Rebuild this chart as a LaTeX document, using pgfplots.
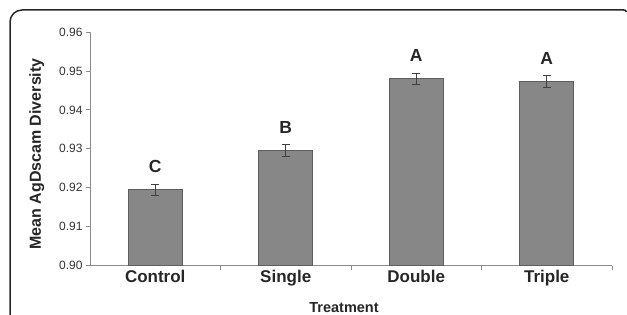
\documentclass[border=0pt]{standalone}
\usepackage{fontspec}
\setmainfont{Liberation Sans}
\usepackage{pgfplots}
\usepackage{pgfplotstable}
\pgfplotsset{compat=1.18}
\definecolor{barfill}{HTML}{878787}
\definecolor{baredge}{HTML}{5E5E5E}
\definecolor{axisgray}{HTML}{8C8C8C}
\pgfplotstableread{
x y err lab
0 0.9195 0.0014 C
1 0.9297 0.0015 B
2 0.9480 0.0015 A
3 0.9473 0.0016 A
}\datatable
\begin{document}
\begin{tikzpicture}[x=1pt,y=1pt]
\useasboundingbox (0,0) rectangle (627,315);
\draw[line width=1.5pt, black!85, rounded corners=12pt] (10,-5) -- (10,305) -- (624,305);
\draw[line width=1.5pt, black!85] (623.5,305) .. controls (625,305) and (626,304.5) .. (626.5,303);
\begin{axis}[
  at={(90pt,49.3pt)}, anchor=south west,
  scale only axis, width=522pt, height=233.7pt,
  xmin=-0.5, xmax=3.5, ymin=0.90, ymax=0.96,
  axis lines*=left,
  axis line style={draw=axisgray, line width=0.8pt},
  tick style={draw=axisgray, line width=0.8pt},
  tick align=outside,
  major tick length=4pt,
  ytick={0.90,0.91,0.92,0.93,0.94,0.95,0.96},
  yticklabel style={font=\fontsize{12}{14}\selectfont, text=black!80,
    /pgf/number format/fixed, /pgf/number format/fixed zerofill,
    /pgf/number format/precision=2, /pgf/number format/assume math mode=true},
  xtick={0.5,1.5,2.5,3.5},
  xticklabels={},
  extra x ticks={0,1,2,3},
  extra x tick labels={Control,Single,Double,Triple},
  extra x tick style={major tick length=0pt, tick style={draw=none},
    xticklabel style={font=\fontsize{17}{20}\selectfont\bfseries, text=black!85, anchor=base, yshift=-16.5pt}},
  xlabel={Treatment},
  ylabel={Mean AgDscam Diversity},
  xlabel style={at={(axis description cs:0.4866,-0.181)}, anchor=center, font=\fontsize{14.5}{17}\selectfont\bfseries, text=black!85},
  ylabel style={at={(axis description cs:-0.1021,0.478)}, anchor=center, font=\fontsize{16}{18}\selectfont\bfseries, text=black!85},
  clip=false,
]
\addplot[ybar, bar width=54pt, fill=barfill, draw=baredge, line width=0.8pt,
  point meta=explicit symbolic,
  nodes near coords,
  every node near coord/.append style={anchor=center, yshift=23pt, font=\fontsize{17.5}{20}\selectfont\bfseries, text=black!85},
  error bars/.cd, y dir=both, y explicit,
  error bar style={draw=black!75, line width=0.6pt},
  error mark options={rotate=90, mark size=4pt, draw=black!75, line width=0.6pt}]
  table[x=x, y=y, y error=err, meta=lab] {\datatable};
\end{axis}
\end{tikzpicture}
\end{document}
